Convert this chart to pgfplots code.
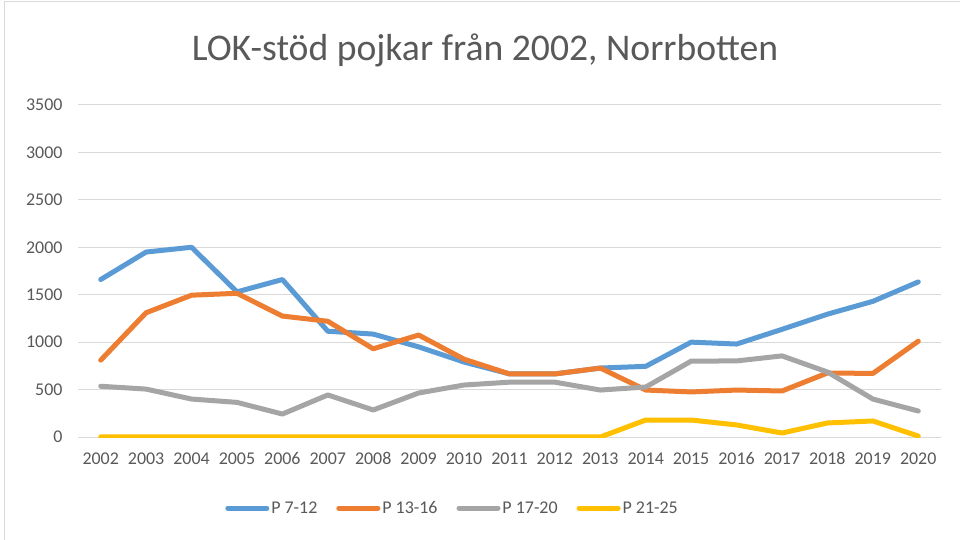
\documentclass[border=0pt]{standalone}
\usepackage{pgfplots}
\pgfplotsset{compat=1.18}
\usepackage{fontspec}
\setmainfont{Carlito}
\definecolor{cBlue}{HTML}{5B9BD5}
\definecolor{cOrange}{HTML}{ED7D31}
\definecolor{cGray}{HTML}{A5A5A5}
\definecolor{cYellow}{HTML}{FFC000}
\definecolor{cGrid}{HTML}{D9D9D9}
\definecolor{cText}{HTML}{595959}
\begin{document}
\begin{tikzpicture}
\useasboundingbox (0bp,0bp) rectangle (960bp,540bp);
\fill[white] (0bp,0bp) rectangle (960bp,540bp);
\draw[cGrid, line width=1.2bp] (4.5bp,0bp) -- (4.5bp,538.5bp) -- (960bp,538.5bp);
\node[text=cText, font=\fontsize{37.8}{44}\selectfont] at (485bp,490bp) {LOK-stöd pojkar från 2002, Norrbotten};
\begin{axis}[
  at={(78bp,103bp)}, anchor=south west,
  scale only axis, width=863bp, height=332bp,
  xmin=2001.5, xmax=2020.5, ymin=0, ymax=3500,
  xtick={2002,...,2020}, ytick={0,500,...,3500},
  /pgf/number format/1000 sep={},
  /pgf/number format/assume math mode=true,
  tick label style={font=\fontsize{18}{21}\selectfont, text=cText},
  xticklabel style={yshift=-12bp},
  yticklabel style={xshift=-12bp},
  axis line style={draw=none},
  x axis line style={draw=cGrid, line width=1bp},
  major tick length=0pt,
  ymajorgrids, grid style={cGrid, line width=1bp},
  legend columns=4,
  legend style={at={(axis description cs:0.434,-0.214)}, anchor=center, draw=none, fill=none,
    font=\fontsize{18}{21}\selectfont, text=cText,
    /tikz/every even column/.append style={column sep=17bp}},
  legend image code/.code={\draw[#1, line width=5bp, line cap=round] (0bp,0bp) -- (39bp,0bp);},
  every axis plot/.append style={line width=5bp, line join=round, line cap=round},
]
\addplot[cBlue] coordinates {(2002,1660)(2003,1950)(2004,2000)(2005,1530)(2006,1660)(2007,1115)(2008,1085)(2009,950)(2010,790)(2011,665)(2012,665)(2013,727)(2014,745)(2015,1000)(2016,980)(2017,1135)(2018,1295)(2019,1430)(2020,1635)};
\addlegendentry{P 7-12}
\addplot[cOrange] coordinates {(2002,810)(2003,1310)(2004,1495)(2005,1515)(2006,1275)(2007,1220)(2008,930)(2009,1075)(2010,820)(2011,665)(2012,665)(2013,727)(2014,495)(2015,475)(2016,495)(2017,485)(2018,675)(2019,670)(2020,1010)};
\addlegendentry{P 13-16}
\addplot[cGray] coordinates {(2002,535)(2003,505)(2004,400)(2005,365)(2006,242)(2007,443)(2008,285)(2009,464)(2010,548)(2011,578)(2012,578)(2013,495)(2014,527)(2015,800)(2016,802)(2017,855)(2018,685)(2019,400)(2020,274)};
\addlegendentry{P 17-20}
\addplot[cYellow] coordinates {(2002,0)(2003,0)(2004,0)(2005,0)(2006,0)(2007,0)(2008,0)(2009,0)(2010,0)(2011,0)(2012,0)(2013,0)(2014,179)(2015,179)(2016,127)(2017,42)(2018,148)(2019,169)(2020,10)};
\addlegendentry{P 21-25}
\end{axis}
\end{tikzpicture}
\end{document}
